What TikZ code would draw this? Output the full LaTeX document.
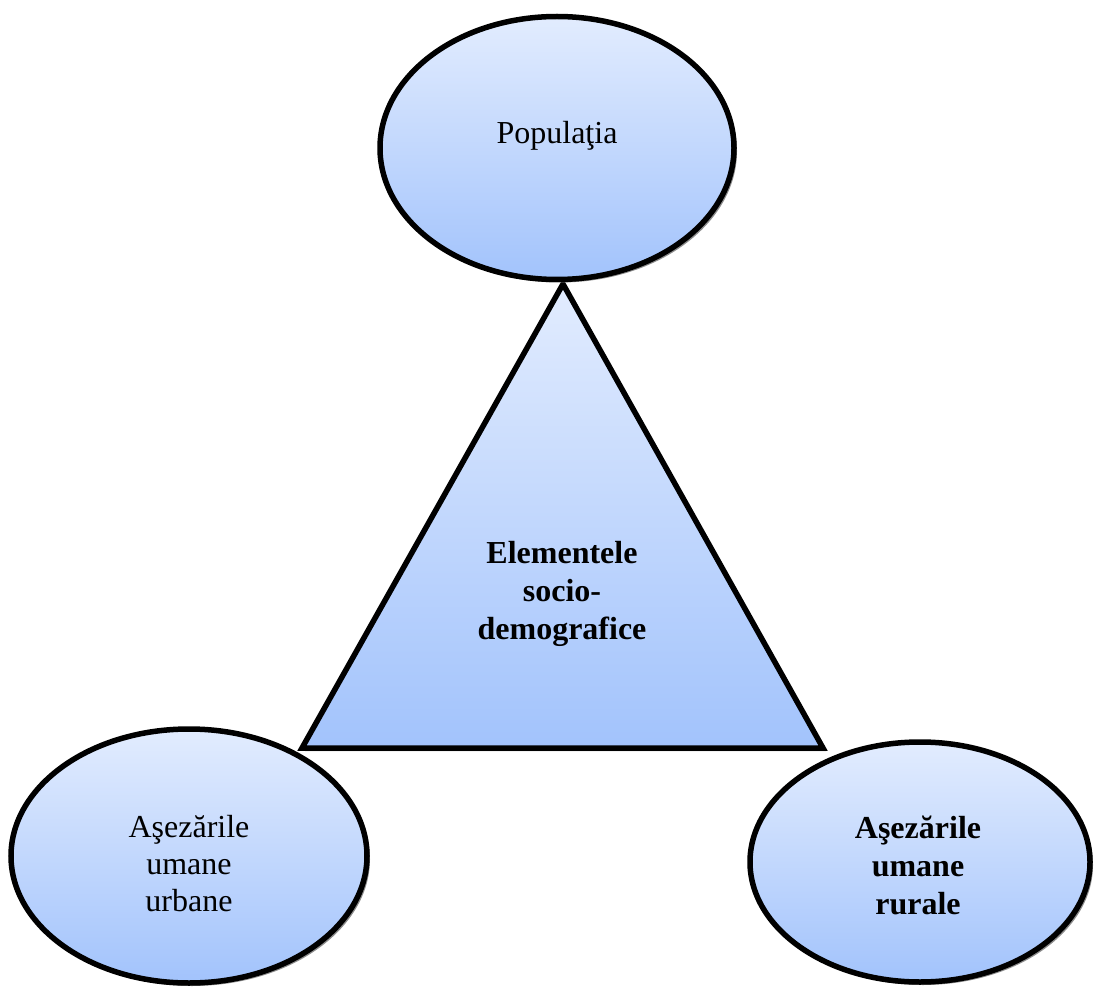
\documentclass[tikz,border=0pt]{standalone}
\usepackage{fontspec}
\setmainfont{Liberation Serif}
\usetikzlibrary{shapes.geometric,shadows}
\definecolor{shadetop}{HTML}{E2ECFE}
\definecolor{shadebot}{HTML}{A2C3FC}
\tikzset{
  blob/.style={ellipse, draw=black, line width=5.5pt, top color=shadetop, bottom color=shadebot,
    drop shadow={shadow xshift=3pt, shadow yshift=-3pt, fill=black!45, opacity=1},
    align=center, font=\fontsize{32}{37}\selectfont, inner sep=0pt},
  tri/.style={draw=black, line width=5.5pt, top color=shadetop, bottom color=shadebot,
    drop shadow={shadow xshift=3pt, shadow yshift=-3pt, fill=black!45, opacity=1}},
  caption/.style={align=center, font=\fontsize{32}{37}\selectfont},
  boldcaption/.style={caption, font=\fontsize{32}{38}\selectfont\bfseries}
}
\begin{document}
\begin{tikzpicture}[x=1pt, y=-1pt]
  \useasboundingbox (0,0) rectangle (1095,992);
  % triangle in the middle
  \coordinate (apex) at (563,284);
  \coordinate (bl) at (302,748);
  \coordinate (br) at (823,748);
  \path[tri] (apex) -- (bl) -- (br) -- cycle;
  \node[boldcaption] (core) at (562,594) {Elementele\\socio-\\demografice};
  % the three ellipses around it
  \node[blob, minimum width=354pt, minimum height=263pt] (pop) at (557,148) {};
  \node[caption] (poptext) at (557,136) {Populaţia};
  \node[blob, minimum width=356pt, minimum height=254pt] (urb) at (189,856) {};
  \node[caption] (urbtext) at (189,864) {Aşezările\\umane\\urbane};
  \node[blob, minimum width=340pt, minimum height=240pt] (rur) at (920,862) {};
  \node[boldcaption] (rurtext) at (918,865) {Aşezările\\umane\\rurale};
\end{tikzpicture}
\end{document}
